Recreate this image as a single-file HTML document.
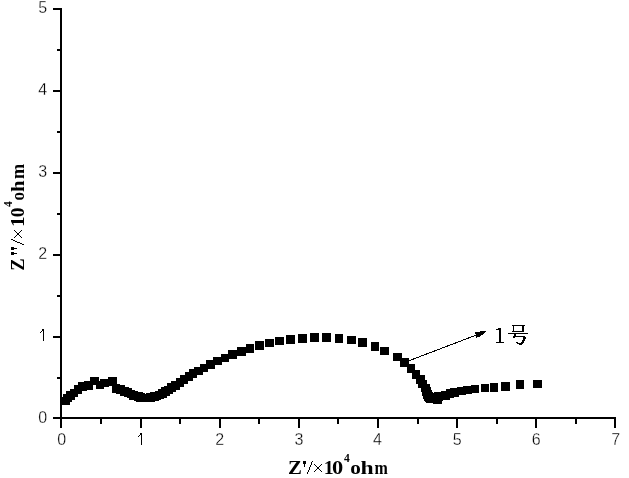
<!DOCTYPE html>
<html><head><meta charset="utf-8"><title>Nyquist plot</title>
<style>
html,body{margin:0;padding:0;background:#fff;}
body{width:629px;height:478px;overflow:hidden;}
svg{display:block;will-change:transform;}
.tl{font-family:"Liberation Sans",sans-serif;font-size:16px;fill:#000;stroke:#fff;stroke-width:0.3px;}
.at{font-family:"Liberation Serif",serif;font-weight:bold;font-size:18.67px;fill:#000;}
.sup{font-family:"Liberation Serif",serif;font-weight:bold;font-size:11.5px;fill:#000;}
.tm{font-family:"Liberation Serif",serif;font-weight:normal;font-size:18.67px;fill:#000;}
</style></head><body>
<svg width="629" height="478" viewBox="0 0 629 478">
<rect x="0" y="0" width="629" height="478" fill="#fff"/>
<g fill="#000" shape-rendering="crispEdges">
<rect x="60" y="8" width="2" height="420"/>
<rect x="53" y="417" width="563" height="2"/>
<rect x="60" y="417" width="2" height="11"/>
<rect x="140" y="417" width="2" height="11"/>
<rect x="219" y="417" width="2" height="11"/>
<rect x="298" y="417" width="2" height="11"/>
<rect x="377" y="417" width="2" height="11"/>
<rect x="456" y="417" width="2" height="11"/>
<rect x="535" y="417" width="2" height="11"/>
<rect x="614" y="417" width="2" height="11"/>
<rect x="100" y="417" width="2" height="7"/>
<rect x="179" y="417" width="2" height="7"/>
<rect x="258" y="417" width="2" height="7"/>
<rect x="337" y="417" width="2" height="7"/>
<rect x="417" y="417" width="2" height="7"/>
<rect x="496" y="417" width="2" height="7"/>
<rect x="575" y="417" width="2" height="7"/>
<rect x="53" y="8" width="9" height="2"/>
<rect x="53" y="90" width="9" height="2"/>
<rect x="53" y="172" width="9" height="2"/>
<rect x="53" y="254" width="9" height="2"/>
<rect x="53" y="336" width="9" height="2"/>
<rect x="53" y="417" width="9" height="2"/>
<rect x="57" y="49" width="5" height="2"/>
<rect x="57" y="131" width="5" height="2"/>
<rect x="57" y="213" width="5" height="2"/>
<rect x="57" y="295" width="5" height="2"/>
<rect x="57" y="377" width="5" height="2"/>
</g>
<g fill="#000" shape-rendering="crispEdges">
<rect x="61" y="397" width="9" height="8"/>
<rect x="63" y="394" width="9" height="8"/>
<rect x="66" y="391" width="9" height="9"/>
<rect x="70" y="389" width="8" height="8"/>
<rect x="74" y="385" width="8" height="9"/>
<rect x="78" y="382" width="9" height="9"/>
<rect x="84" y="381" width="9" height="9"/>
<rect x="90" y="377" width="9" height="8"/>
<rect x="96" y="381" width="8" height="8"/>
<rect x="100" y="379" width="9" height="8"/>
<rect x="108" y="377" width="9" height="9"/>
<rect x="112" y="384" width="8" height="9"/>
<rect x="116" y="385" width="9" height="9"/>
<rect x="120" y="387" width="9" height="9"/>
<rect x="124" y="388" width="8" height="9"/>
<rect x="127" y="390" width="8" height="8"/>
<rect x="129" y="391" width="9" height="9"/>
<rect x="134" y="392" width="9" height="9"/>
<rect x="136" y="393" width="9" height="9"/>
<rect x="138" y="394" width="8" height="8"/>
<rect x="142" y="394" width="8" height="8"/>
<rect x="146" y="393" width="9" height="9"/>
<rect x="150" y="392" width="9" height="9"/>
<rect x="152" y="392" width="9" height="8"/>
<rect x="155" y="391" width="9" height="8"/>
<rect x="158" y="389" width="9" height="9"/>
<rect x="161" y="387" width="9" height="9"/>
<rect x="164" y="386" width="9" height="8"/>
<rect x="167" y="383" width="9" height="9"/>
<rect x="171" y="381" width="9" height="9"/>
<rect x="176" y="378" width="8" height="9"/>
<rect x="180" y="375" width="8" height="9"/>
<rect x="185" y="372" width="8" height="9"/>
<rect x="189" y="369" width="8" height="9"/>
<rect x="194" y="367" width="9" height="8"/>
<rect x="200" y="364" width="8" height="8"/>
<rect x="206" y="360" width="9" height="9"/>
<rect x="213" y="357" width="9" height="8"/>
<rect x="221" y="354" width="8" height="8"/>
<rect x="228" y="350" width="9" height="9"/>
<rect x="237" y="347" width="9" height="9"/>
<rect x="246" y="344" width="8" height="9"/>
<rect x="255" y="341" width="9" height="9"/>
<rect x="265" y="339" width="9" height="8"/>
<rect x="275" y="337" width="9" height="8"/>
<rect x="286" y="335" width="9" height="9"/>
<rect x="298" y="334" width="9" height="9"/>
<rect x="310" y="333" width="9" height="9"/>
<rect x="322" y="333" width="9" height="9"/>
<rect x="335" y="334" width="8" height="9"/>
<rect x="347" y="336" width="9" height="8"/>
<rect x="358" y="338" width="9" height="9"/>
<rect x="371" y="342" width="8" height="9"/>
<rect x="380" y="347" width="9" height="8"/>
<rect x="393" y="353" width="9" height="8"/>
<rect x="400" y="358" width="9" height="9"/>
<rect x="407" y="364" width="8" height="9"/>
<rect x="412" y="370" width="8" height="9"/>
<rect x="416" y="375" width="9" height="9"/>
<rect x="418" y="380" width="9" height="8"/>
<rect x="421" y="384" width="9" height="8"/>
<rect x="422" y="387" width="9" height="9"/>
<rect x="423" y="390" width="9" height="9"/>
<rect x="424" y="392" width="9" height="9"/>
<rect x="425" y="393" width="9" height="9"/>
<rect x="426" y="394" width="9" height="9"/>
<rect x="429" y="394" width="9" height="9"/>
<rect x="433" y="395" width="9" height="9"/>
<rect x="434" y="392" width="9" height="9"/>
<rect x="437" y="392" width="9" height="8"/>
<rect x="441" y="391" width="9" height="9"/>
<rect x="446" y="389" width="8" height="9"/>
<rect x="450" y="388" width="9" height="9"/>
<rect x="457" y="387" width="9" height="8"/>
<rect x="463" y="386" width="9" height="8"/>
<rect x="471" y="385" width="8" height="8"/>
<rect x="481" y="384" width="8" height="8"/>
<rect x="490" y="383" width="8" height="9"/>
<rect x="501" y="382" width="9" height="9"/>
<rect x="516" y="380" width="8" height="9"/>
<rect x="533" y="380" width="9" height="8"/>
</g>
<g class="tl" text-anchor="middle">
<text x="61.6" y="445.2">0</text>
<text x="219.6" y="445.2">2</text>
<text x="299.0" y="445.2">3</text>
<text x="377.5" y="445.2">4</text>
<text x="457.3" y="445.2">5</text>
<text x="536.1" y="445.2">6</text>
<text x="615.6" y="445.2">7</text>
<text x="42.6" y="13.3">5</text>
<text x="42.6" y="95.3">4</text>
<text x="42.6" y="177.3">3</text>
<text x="42.6" y="259.3">2</text>
<text x="42.6" y="422.8">0</text>
</g>
<g fill="#000" shape-rendering="crispEdges">
<rect x="141" y="433" width="1" height="12"/><rect x="140" y="433" width="1" height="2"/><rect x="139" y="435" width="1" height="1"/><rect x="138" y="436" width="1" height="1"/>
<rect x="43" y="329" width="1" height="12"/><rect x="42" y="329" width="1" height="2"/><rect x="41" y="331" width="1" height="1"/><rect x="40" y="332" width="1" height="1"/>
</g>
<g shape-rendering="crispEdges" fill="#000"><line x1="409" y1="360.7" x2="477" y2="334.8" stroke="#000" stroke-width="1"/><rect x="480" y="331" width="6" height="1"/><rect x="475" y="332" width="10" height="1"/><rect x="475" y="333" width="9" height="1"/><rect x="476" y="334" width="7" height="1"/><rect x="476" y="335" width="5" height="1"/><rect x="476" y="336" width="4" height="1"/><rect x="476" y="337" width="1" height="1"/></g>
<g fill="#000" shape-rendering="crispEdges"><rect x="499" y="328" width="2" height="15"/><rect x="496" y="342" width="8" height="1"/><rect x="496" y="329" width="3" height="1"/><rect x="498" y="328" width="1" height="1"/><rect x="512" y="325" width="13" height="1"/><rect x="513" y="326" width="1" height="5"/><rect x="522" y="326" width="2" height="5"/><rect x="512" y="331" width="12" height="1"/><rect x="508" y="333" width="20" height="1"/><rect x="514" y="334" width="2" height="2"/><rect x="513" y="336" width="12" height="1"/><rect x="513" y="337" width="2" height="1"/><rect x="523" y="337" width="3" height="2"/><rect x="523" y="339" width="2" height="1"/><rect x="522" y="340" width="3" height="1"/><rect x="522" y="341" width="2" height="1"/><rect x="516" y="342" width="2" height="1"/><rect x="521" y="342" width="3" height="1"/><rect x="517" y="343" width="6" height="1"/><rect x="519" y="344" width="3" height="1"/></g>
<text class="at" transform="translate(287.98,473.60) scale(1.118,1)">Z</text>
<text class="at" transform="translate(323.77,473.60) scale(1.067,1)">1</text>
<text class="at" transform="translate(332.00,473.60) scale(1.200,1)">0</text>
<text class="at" transform="translate(350.16,473.60) scale(1.137,1)">o</text>
<text class="at" transform="translate(360.53,473.60) scale(1.267,1)">h</text>
<text class="at" transform="translate(374.50,473.60) scale(0.860,1)">m</text>
<text class="sup" transform="translate(344.00,462.20) scale(1.000,1)">4</text>
<g transform="translate(24,269.7) rotate(-90)">
<text class="at" transform="translate(-0.99,0.00) scale(0.991,1)">Z</text>
<text class="at" transform="translate(42.63,0.00) scale(1.133,1)">1</text>
<text class="at" transform="translate(52.56,0.00) scale(1.038,1)">0</text>
<text class="at" transform="translate(69.09,0.00) scale(0.912,1)">o</text>
<text class="at" transform="translate(77.59,0.00) scale(1.111,1)">h</text>
<text class="at" transform="translate(90.80,0.00) scale(0.973,1)">m</text>
<text class="sup" transform="translate(62.80,-12.20) scale(1.017,1.15)">4</text>
</g>
<g fill="#000" shape-rendering="crispEdges"><rect x="303" y="461" width="3" height="3"/><rect x="304" y="464" width="1" height="3"/><rect x="312" y="461" width="1" height="1"/><rect x="311" y="462" width="1" height="3"/><rect x="310" y="465" width="1" height="2"/><rect x="309" y="467" width="1" height="3"/><rect x="308" y="470" width="1" height="2"/><rect x="307" y="472" width="1" height="2"/><rect x="314" y="464" width="1" height="1"/><rect x="321" y="464" width="1" height="1"/><rect x="315" y="465" width="1" height="1"/><rect x="320" y="465" width="1" height="1"/><rect x="316" y="466" width="1" height="1"/><rect x="319" y="466" width="1" height="1"/><rect x="317" y="467" width="1" height="1"/><rect x="318" y="467" width="1" height="1"/><rect x="318" y="468" width="1" height="1"/><rect x="317" y="468" width="1" height="1"/><rect x="319" y="469" width="1" height="1"/><rect x="316" y="469" width="1" height="1"/><rect x="320" y="470" width="1" height="1"/><rect x="315" y="470" width="1" height="1"/><rect x="321" y="471" width="1" height="1"/><rect x="314" y="471" width="1" height="1"/><rect x="317" y="467" width="2" height="2"/><rect x="11" y="247" width="3" height="3"/><rect x="14" y="248" width="3" height="1"/><rect x="11" y="252" width="3" height="3"/><rect x="14" y="253" width="3" height="1"/><rect x="11" y="239" width="2" height="1"/><rect x="13" y="240" width="2" height="1"/><rect x="15" y="241" width="2" height="1"/><rect x="17" y="242" width="3" height="1"/><rect x="20" y="243" width="2" height="1"/><rect x="22" y="244" width="2" height="1"/><rect x="14" y="230" width="1" height="1"/><rect x="21" y="230" width="1" height="1"/><rect x="15" y="231" width="1" height="1"/><rect x="20" y="231" width="1" height="1"/><rect x="16" y="232" width="1" height="1"/><rect x="19" y="232" width="1" height="1"/><rect x="17" y="233" width="1" height="1"/><rect x="18" y="233" width="1" height="1"/><rect x="18" y="234" width="1" height="1"/><rect x="17" y="234" width="1" height="1"/><rect x="19" y="235" width="1" height="1"/><rect x="16" y="235" width="1" height="1"/><rect x="20" y="236" width="1" height="1"/><rect x="15" y="236" width="1" height="1"/><rect x="21" y="237" width="1" height="1"/><rect x="14" y="237" width="1" height="1"/><rect x="17" y="233" width="2" height="2"/></g>
</svg>
</body></html>
